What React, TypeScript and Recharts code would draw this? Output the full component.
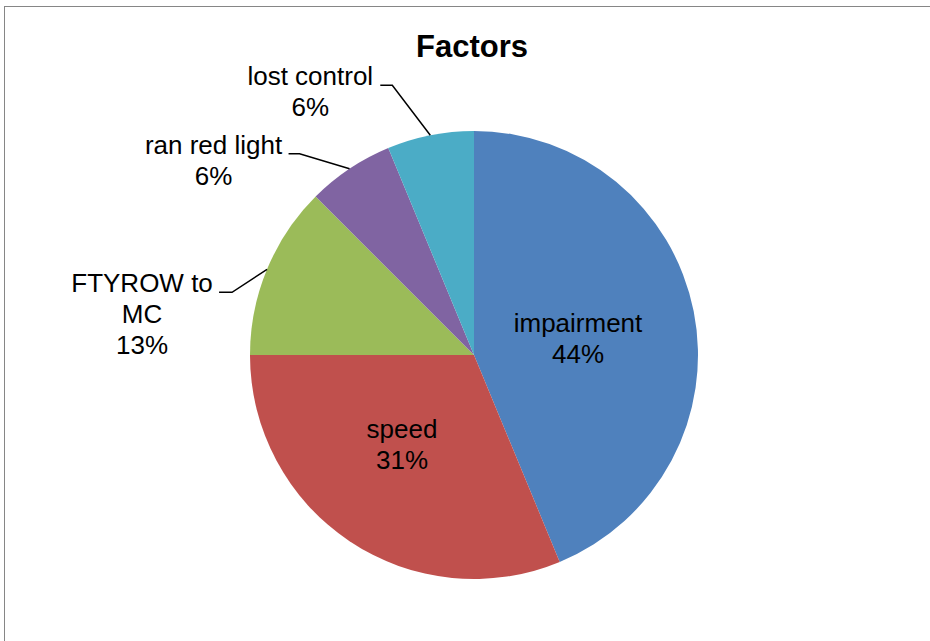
import { PieChart, Pie, Cell } from "recharts";

// crash factors (counts), shares shown as rounded percentages
const FACTORS = ["impairment", "speed", "FTYROW to MC", "ran red light", "lost control"];
const COUNTS = [7, 5, 2, 1, 1];
const LABEL_LINES = [["impairment"], ["speed"], ["FTYROW to", "MC"], ["ran red light"], ["lost control"]];
const COLORS = ["#4F81BD", "#C0504D", "#9BBB59", "#8064A2", "#4BACC6"];

const data = FACTORS.map((name, i) => ({ name, value: COUNTS[i] }));

const FONT = "'Liberation Sans', Arial, sans-serif";
const RADIAN = Math.PI / 180;
const LINE_H = 31;

/** label placement per slice (inside: offset from centre; outside: elbow offset from edge)*/
const LABEL_LAYOUT = [
  { inside: true, dx: 104, dy: -23 },
  { inside: true, dx: -72, dy: 83 },
  { inside: false, ex: -35, ey: 23, tail: 13, textDx: -77 },
  { inside: false, ex: -50, ey: -15, tail: 11, textDx: -75 },
  { inside: false, ex: -38, ey: -50, tail: 12, textDx: -70 },
];

// eslint-disable-next-line @typescript-eslint/no-explicit-any
function renderLabel(props: any) {
  const { cx, cy, midAngle, outerRadius, percent, index } = props;
  const layout = LABEL_LAYOUT[index];
  const lines = [...LABEL_LINES[index], `${Math.round(percent * 100)}%`];

  if (layout.inside) {
    const x = cx + layout.dx;
    const y = cy + layout.dy;
    return (
      <text x={x} y={y} textAnchor="middle" fill="#000" fontSize={26} fontFamily={FONT}>
        {lines.map((l, i) => (
          <tspan key={i} x={x} y={y + i * LINE_H}>
            {l}
          </tspan>
        ))}
      </text>
    );
  }

  const edgeX = cx + outerRadius * Math.cos(-midAngle * RADIAN);
  const edgeY = cy + outerRadius * Math.sin(-midAngle * RADIAN);
  const elbowX = edgeX + layout.ex!;
  const elbowY = edgeY + layout.ey!;
  const tailX = elbowX - layout.tail!;
  const tx = tailX + layout.textDx!;
  return (
    <g>
      <polyline
        points={`${edgeX},${edgeY} ${elbowX},${elbowY} ${tailX},${elbowY}`}
        fill="none"
        stroke="#000"
        strokeWidth={1.5}
      />
      <text x={tx} y={elbowY} textAnchor="middle" fill="#000" fontSize={26} fontFamily={FONT}>
        {lines.map((l, i) => (
          <tspan key={i} x={tx} y={elbowY + i * LINE_H}>
            {l}
          </tspan>
        ))}
      </text>
    </g>
  );
}

export default function App() {
  return (
    <div
      style={{
        position: "absolute",
        left: 0,
        top: 0,
        width: 930,
        height: 641,
        overflow: "hidden",
        background: "#fff",
      }}
    >
      <div
        style={{
          position: "absolute",
          left: 4,
          top: 6,
          width: 1000,
          height: 700,
          border: "1px solid #868686",
        }}
      />
      <div
        style={{
          position: "absolute",
          left: 0,
          width: 944,
          top: 31,
          textAlign: "center",
          fontFamily: FONT,
          fontWeight: "bold",
          fontSize: 31,
          lineHeight: "31px",
          color: "#000",
        }}
      >
        Factors
      </div>
      <div style={{ position: "absolute", left: 0, top: 0 }}>
        <PieChart width={930} height={641} margin={{ top: 0, right: 0, bottom: 0, left: 0 }}>
          <Pie
            data={data}
            dataKey="value"
            nameKey="name"
            cx={474}
            cy={355}
            outerRadius={224}
            startAngle={90}
            endAngle={-270}
            stroke="none"
            label={renderLabel}
            labelLine={false}
            isAnimationActive={false}
          >
            {data.map((d, i) => (
              <Cell key={d.name} fill={COLORS[i]} />
            ))}
          </Pie>
        </PieChart>
      </div>
    </div>
  );
}
